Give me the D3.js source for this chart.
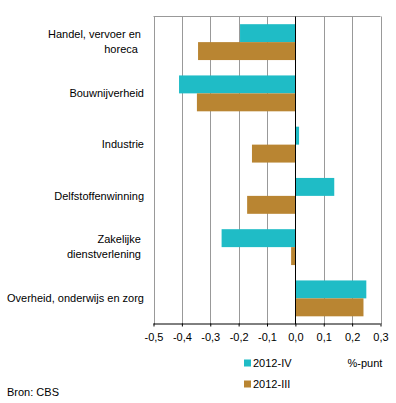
<!DOCTYPE html>
<html><head><meta charset="utf-8">
<script src="https://cdn.jsdelivr.net/npm/d3@7"></script>
<style>body{margin:0;background:#fff}svg{display:block}text{font-family:"Liberation Sans",Arial,sans-serif;font-size:11px;fill:#000;white-space:pre}</style>
</head><body><svg id="c" width="396" height="403"></svg>
<script>
const categories = [
  ["Handel, vervoer en ", "horeca  "],
  ["Bouwnijverheid"],
  ["Industrie"],
  ["Delfstoffenwinning"],
  ["Zakelijke ", "dienstverlening "],
  ["Overheid, onderwijs en zorg"]
];
const seriesNames = ["2012-IV", "2012-III"];
const valuesIV  = [-0.195, -0.41, 0.013, 0.137, -0.26, 0.25];
const valuesIII = [-0.343, -0.347, -0.153, -0.17, -0.015, 0.24];
const xTicks = [-0.5, -0.4, -0.3, -0.2, -0.1, 0, 0.1, 0.2, 0.3];
const colors = ["#1fbcc6", "#b98532"];

const svg = d3.select("#c");
const L = 153.5, R = 380.5, T = 16.5, B = 324;
const x = d3.scaleLinear().domain([-0.5, 0.3]).range([L, R]);
const y = d3.scaleBand().domain(d3.range(categories.length)).range([T, B]).paddingInner(0.3).paddingOuter(0.15);
const ySub = d3.scaleBand().domain([0, 1]).range([0, y.bandwidth()]);

// grid
svg.append("g").selectAll("line").data(xTicks.filter(d => d !== 0)).join("line")
  .attr("x1", d => Math.round(x(d)) + 0.5).attr("x2", d => Math.round(x(d)) + 0.5)
  .attr("y1", T).attr("y2", B).attr("stroke", "#999").attr("stroke-width", 1);
svg.append("line").attr("x1", L).attr("x2", R).attr("y1", T).attr("y2", T).attr("stroke", "#999");

// bars
const series = [valuesIV, valuesIII];
series.forEach((vals, si) => {
  svg.append("g").selectAll("rect").data(vals).join("rect")
    .attr("x", d => x(Math.min(0, d)))
    .attr("width", d => Math.abs(x(d) - x(0)))
    .attr("y", (d, i) => y(i) + ySub(si))
    .attr("height", ySub.bandwidth())
    .attr("fill", colors[si]);
});

// zero line
svg.append("line").attr("x1", Math.round(x(0)) + 0.5).attr("x2", Math.round(x(0)) + 0.5)
  .attr("y1", T).attr("y2", B).attr("stroke", "#000");

// x axis
const ax = svg.append("g").attr("transform", `translate(0,${B - 0.5})`)
  .call(d3.axisBottom(x).tickValues(xTicks).tickSize(3).tickPadding(7)
    .tickFormat(d => d3.format(".1f")(d).replace(".", ",").replace("−", "-")));
ax.select(".domain").attr("stroke", "#000").attr("d", `M${L},0.5H${R}`);
ax.selectAll(".tick line").attr("stroke", "#000");
ax.selectAll(".tick text").style("font-family", "'Liberation Sans',Arial,sans-serif").style("font-size", "11px").attr("fill", "#000");

// category labels
const lab = svg.append("g");
categories.forEach((lines, i) => {
  const cy = y(i) + y.bandwidth() / 2;
  const n = lines.length;
  lines.forEach((s, j) => {
    lab.append("text").attr("x", 144).attr("y", cy + (j - (n - 1) / 2) * 15)
      .attr("dy", "0.35em").attr("text-anchor", "end").text(s);
  });
});

// legend
const lg = svg.append("g");
seriesNames.forEach((s, i) => {
  const ly = 363 + i * 21;
  lg.append("rect").attr("x", 244).attr("y", ly - 3.5).attr("width", 7).attr("height", 7).attr("fill", colors[i]);
  lg.append("text").attr("x", 253).attr("y", ly).attr("dy", "0.35em").text(s);
});
svg.append("text").attr("x", 347.5).attr("y", 363).attr("dy", "0.35em").text("%-punt");
svg.append("text").attr("x", 7).attr("y", 392).attr("dy", "0.35em").text("Bron: CBS");
</script></body></html>
